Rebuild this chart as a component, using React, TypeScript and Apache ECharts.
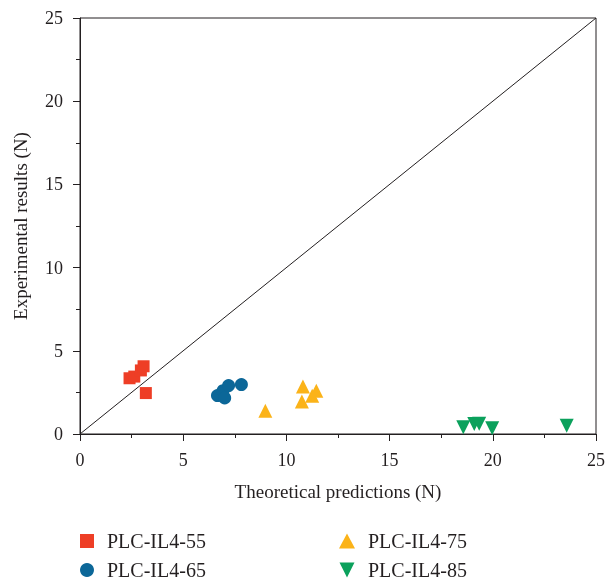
import React, { useEffect, useRef } from "react";
import * as echarts from "echarts";

const seriesNames = ["PLC-IL4-55", "PLC-IL4-65", "PLC-IL4-75", "PLC-IL4-85"];
const il55: number[][] = [[2.4, 3.35], [2.63, 3.45], [2.95, 3.82], [3.08, 4.07], [3.19, 2.46]];
const il65: number[][] = [[6.66, 2.31], [6.93, 2.6], [7.01, 2.17], [7.2, 2.91], [7.82, 2.97]];
const il75: number[][] = [[8.98, 1.4], [10.8, 2.85], [10.75, 1.95], [11.25, 2.3], [11.45, 2.6]];
const il85: number[][] = [[18.57, 0.4], [19.1, 0.6], [19.34, 0.62], [19.97, 0.35], [23.58, 0.5]];
const diagonal: number[][] = [[0, 0], [25, 25]];
const xName = "Theoretical predictions (N)";
const yName = "Experimental results (N)";

const FONT = "Liberation Serif";
const INK = "#231F20";

export default function App() {
  const ref = useRef<HTMLDivElement>(null);
  useEffect(() => {
    const chart = echarts.init(ref.current!, null, { renderer: "svg" });
    const axisCommon = {
      min: 0,
      max: 25,
      interval: 5,
      nameLocation: "middle",
      nameTextStyle: { fontFamily: FONT, fontSize: 19, color: INK },
      axisLine: { show: true, onZero: false, lineStyle: { color: INK, width: 1 } },
      axisTick: { show: true, inside: false, length: 7, lineStyle: { color: INK } },
      minorTick: { show: true, splitNumber: 2, length: 4, lineStyle: { color: INK } },
      splitLine: { show: false },
      axisLabel: { fontFamily: FONT, fontSize: 18, color: INK, margin: 17 },
    };
    const legendText = { fontFamily: FONT, fontSize: 20, color: INK, lineHeight: 20, padding: [0, 0, 0, 8] };
    chart.setOption({
      animation: false,
      grid: { left: 80, right: 11, top: 18, bottom: 152, show: true, borderColor: INK, borderWidth: 1 },
      xAxis: { type: "value", name: xName, nameGap: 48, ...axisCommon },
      yAxis: { type: "value", name: yName, nameGap: 50, ...axisCommon },
      legend: [
        {
          data: [seriesNames[0], seriesNames[1]],
          orient: "vertical",
          left: 80,
          top: 531,
          padding: 0,
          itemWidth: 14,
          itemHeight: 14,
          itemGap: 9,
          textStyle: legendText,
        },
        {
          data: [seriesNames[2], seriesNames[3]],
          orient: "vertical",
          left: 339,
          top: 531,
          padding: 0,
          itemWidth: 16,
          itemHeight: 15,
          itemGap: 9,
          textStyle: legendText,
        },
      ],
      series: [
        {
          type: "line",
          data: diagonal,
          symbol: "none",
          silent: true,
          lineStyle: { color: INK, width: 1 },
          z: 1,
        },
        { name: seriesNames[0], type: "scatter", symbol: "rect", symbolSize: 12, data: il55, itemStyle: { color: "#EE3E26", opacity: 1 }, z: 3 },
        { name: seriesNames[1], type: "scatter", symbol: "circle", symbolSize: 13, data: il65, itemStyle: { color: "#0C6798", opacity: 1 }, z: 3 },
        { name: seriesNames[2], type: "scatter", symbol: "triangle", symbolSize: 14, data: il75, itemStyle: { color: "#FBB319", opacity: 1 }, z: 3 },
        { name: seriesNames[3], type: "scatter", symbol: "path://M0,0L10,0L5,10Z", symbolSize: 14, data: il85, itemStyle: { color: "#0BA15C", opacity: 1 }, z: 3 },
      ],
    });
    return () => chart.dispose();
  }, []);
  return <div ref={ref} style={{ position: "fixed", left: 0, top: 0, width: 608, height: 586 }} />;
}
